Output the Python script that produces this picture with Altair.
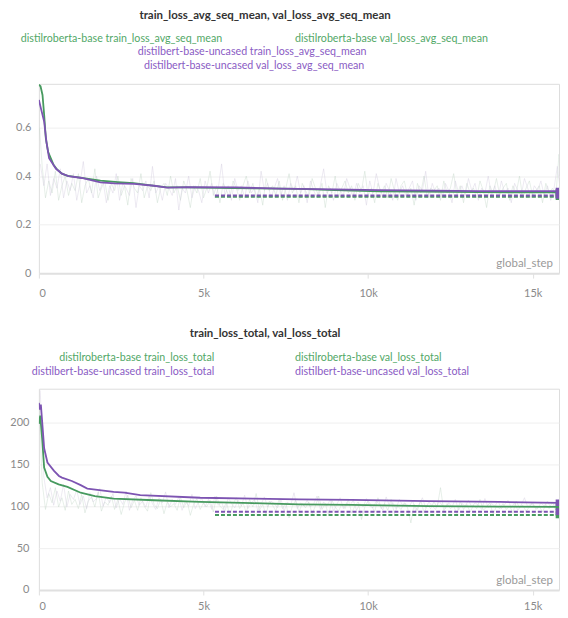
import altair as alt
import pandas as pd

GREEN = "#479A5F"
PURPLE = "#7D54B2"
GREEN_TXT = "#52A867"
PURPLE_TXT = "#8A5CC4"
FONT = "Lato"

# ---------------- panel 1: avg_seq_mean ----------------
p1_green_train_steps = [0, 50, 110, 160, 210, 280, 360, 450, 560, 700, 870, 1200, 1870, 2400, 2880,
                        3400, 3890, 4500, 5900, 7300, 7900, 9000, 10330, 11500, 13350, 14500, 15800]
p1_green_train_vals = [0.776, 0.77, 0.734, 0.652, 0.556, 0.50, 0.474, 0.445, 0.426, 0.41, 0.401, 0.395,
                       0.381, 0.375, 0.371, 0.362, 0.353, 0.353, 0.350, 0.348, 0.347, 0.342, 0.337,
                       0.336, 0.334, 0.333, 0.333]
p1_purple_train_steps = [0, 60, 160, 230, 310, 400, 520, 700, 900, 1300, 1870, 2300, 2900, 3500, 3900,
                         4500, 6000, 7300, 9000, 10300, 12000, 13350, 15000, 15800]
p1_purple_train_vals = [0.714, 0.68, 0.625, 0.54, 0.474, 0.455, 0.43, 0.41, 0.40, 0.392, 0.374, 0.37,
                        0.368, 0.36, 0.352, 0.354, 0.353, 0.348, 0.345, 0.342, 0.34, 0.338, 0.338, 0.338]
p1_val_steps = [5350, 15800]
p1_green_val = [0.315, 0.315]
p1_purple_val = [0.320, 0.320]

p1_green_raw = [0.60,
    0.44, 0.31, 0.38, 0.33, 0.42, 0.30, 0.36, 0.40, 0.32, 0.37,
    0.34, 0.41, 0.29, 0.36, 0.39, 0.33, 0.43, 0.31, 0.35, 0.38,
    0.30, 0.37, 0.34, 0.40, 0.32, 0.36, 0.28, 0.39, 0.35, 0.33,
    0.41, 0.31, 0.36, 0.34, 0.38, 0.29, 0.35, 0.37, 0.32, 0.40,
    0.33, 0.36, 0.30, 0.38, 0.34, 0.27, 0.36, 0.33, 0.39, 0.31,
    0.35, 0.42, 0.32, 0.36, 0.29, 0.37, 0.34, 0.31, 0.38, 0.35,
    0.30, 0.36, 0.40, 0.33, 0.37, 0.31, 0.35, 0.28, 0.39, 0.34,
    0.36, 0.32, 0.38, 0.30, 0.35, 0.41, 0.33, 0.36, 0.29, 0.37,
    0.34, 0.31, 0.39, 0.35, 0.32, 0.37, 0.27, 0.36, 0.33, 0.40,
    0.31, 0.35, 0.38, 0.33, 0.36, 0.30, 0.37, 0.34, 0.42, 0.32,
    0.35, 0.29, 0.37, 0.33, 0.36, 0.31, 0.39, 0.34, 0.30, 0.36,
    0.38, 0.32, 0.35, 0.28, 0.37, 0.33, 0.40, 0.31, 0.35, 0.34,
    0.36, 0.30, 0.38, 0.33, 0.35, 0.41, 0.32, 0.36, 0.29, 0.37,
    0.33, 0.35, 0.31, 0.38, 0.34, 0.27, 0.36, 0.33, 0.39, 0.32,
    0.35, 0.37, 0.30, 0.36, 0.33, 0.40, 0.31, 0.35, 0.38, 0.32,
    0.34, 0.36, 0.29, 0.37, 0.33, 0.35, 0.31, 0.49, 0.34, 0.36]
p1_purple_raw = [0.45,
    0.36, 0.45, 0.32, 0.39, 0.35, 0.43, 0.31, 0.38, 0.34, 0.41,
    0.30, 0.37, 0.46, 0.33, 0.36, 0.31, 0.40, 0.34, 0.38, 0.29,
    0.36, 0.33, 0.41, 0.30, 0.37, 0.35, 0.32, 0.39, 0.27, 0.36,
    0.34, 0.38, 0.31, 0.44, 0.33, 0.36, 0.30, 0.37, 0.35, 0.32,
    0.39, 0.26, 0.35, 0.33, 0.40, 0.31, 0.36, 0.34, 0.29, 0.38,
    0.33, 0.37, 0.31, 0.35, 0.45, 0.32, 0.36, 0.30, 0.39, 0.34,
    0.36, 0.31, 0.38, 0.33, 0.35, 0.29, 0.42, 0.34, 0.37, 0.31,
    0.35, 0.39, 0.32, 0.36, 0.30, 0.37, 0.34, 0.40, 0.33, 0.36,
    0.29, 0.38, 0.34, 0.31, 0.36, 0.43, 0.33, 0.35, 0.30, 0.37,
    0.34, 0.32, 0.39, 0.35, 0.31, 0.37, 0.33, 0.36, 0.28, 0.38,
    0.33, 0.41, 0.35, 0.31, 0.37, 0.34, 0.30, 0.39, 0.33, 0.36,
    0.32, 0.35, 0.38, 0.30, 0.36, 0.34, 0.42, 0.31, 0.37, 0.33,
    0.35, 0.31, 0.37, 0.34, 0.29, 0.38, 0.33, 0.36, 0.32, 0.39,
    0.34, 0.37, 0.30, 0.35, 0.33, 0.40, 0.32, 0.36, 0.31, 0.38,
    0.33, 0.35, 0.29, 0.37, 0.34, 0.32, 0.39, 0.35, 0.31, 0.36,
    0.34, 0.38, 0.32, 0.36, 0.30, 0.35, 0.44, 0.33, 0.36, 0.34]

# ---------------- panel 2: total ----------------
p2_green_train_steps = [0, 40, 100, 160, 260, 363, 600, 867, 1270, 1700, 2270, 3500, 4900, 6500, 7900,
                        9500, 11840, 14000, 15800]
p2_green_train_vals = [198, 208, 180, 146, 135, 130, 126, 123, 116, 112, 109, 107, 105, 103.5, 102,
                       101.5, 100, 99.5, 99]
p2_purple_train_steps = [0, 30, 60, 120, 160, 260, 460, 610, 700, 1000, 1270, 1470, 2270, 2600, 3080,
                         4900, 6500, 7900, 9500, 11840, 14000, 15800]
p2_purple_train_vals = [223, 215, 221, 190, 169, 152, 142, 136, 134, 130, 125, 121, 117, 116, 113,
                        110, 109, 108, 107.5, 106, 105, 104]
p2_val_steps = [5350, 15800]
p2_green_val = [89.5, 89.5]
p2_purple_val = [93.4, 93.4]

p2_green_raw = [215,
    128, 96, 115, 104, 122, 99, 110, 95, 118, 102,
    108, 97, 114, 92, 106, 111, 99, 117, 94, 105,
    101, 112, 96, 108, 90, 104, 113, 98, 107, 95,
    110, 100, 94, 116, 102, 97, 108, 91, 105, 99,
    103, 95, 111, 98, 106, 89, 102, 109, 96, 104,
    99, 107, 93, 112, 100, 96, 105, 88, 103, 110,
    97, 104, 92, 108, 99, 115, 95, 102, 90, 106,
    101, 94, 109, 97, 104, 86, 100, 107, 93, 103,
    98, 105, 91, 100, 112, 96, 103, 89, 107, 99,
    94, 102, 97, 108, 92, 100, 105, 84, 99, 106,
    101, 93, 110, 97, 103, 95, 108, 91, 100, 96,
    104, 98, 80, 102, 95, 107, 92, 101, 97, 105,
    99, 122, 94, 103, 97, 100, 91, 106, 96, 102,
    93, 101, 97, 108, 95, 99, 104, 90, 100, 97,
    103, 96, 100, 92, 106, 98, 101, 94, 99, 104,
    96, 100, 93, 102, 97, 105, 95, 99, 101, 97]
p2_purple_raw = [238,
    135, 110, 122, 101, 118, 106, 126, 99, 114, 108,
    119, 102, 112, 97, 116, 105, 109, 121, 100, 111,
    104, 115, 98, 109, 102, 118, 95, 107, 112, 101,
    106, 99, 113, 103, 96, 110, 104, 117, 98, 108,
    102, 111, 95, 106, 100, 114, 97, 105, 109, 99,
    108, 96, 112, 101, 105, 93, 110, 103, 98, 107,
    100, 113, 97, 104, 108, 95, 102, 111, 99, 106,
    103, 98, 109, 94, 105, 101, 116, 97, 104, 100,
    107, 99, 103, 112, 96, 105, 100, 108, 94, 102,
    110, 97, 104, 101, 107, 95, 103, 99, 109, 100,
    98, 106, 102, 95, 111, 100, 104, 97, 108, 101,
    103, 99, 107, 94, 102, 110, 98, 105, 100, 96,
    106, 101, 97, 104, 99, 108, 95, 103, 100, 107,
    99, 104, 101, 96, 109, 98, 103, 100, 106, 97,
    102, 107, 98, 104, 95, 101, 110, 99, 103, 100,
    97, 104, 100, 106, 98, 102, 96, 105, 101, 99]

X_MAX = 15800
W = 522


def raw_steps(first, start, n):
    return [first] + [start + 100 * i for i in range(n - 1)]


def df(steps, vals):
    return pd.DataFrame({"step": steps, "v": vals})


def panel(title, legend, gtrain, ptrain, gval, pval, graw, praw, ydom, yticks, height, lpad, xpad, fmt):
    xenc = alt.X("step:Q", scale=alt.Scale(domain=[0, X_MAX], nice=False),
                 axis=alt.Axis(values=[0, 5000, 10000, 15000], title=None, grid=False,
                               labelExpr="datum.value == 0 ? '0' : (datum.value / 1000) + 'k'",
                               domainColor="#e0e0e0", domainWidth=2, tickColor="#e0e0e0",
                               tickSize=5, labelColor="#8a8a8a", labelFontSize=11,
                               labelPadding=xpad, labelFont=FONT))
    yenc = alt.Y("v:Q", scale=alt.Scale(domain=ydom, nice=False),
                 axis=alt.Axis(values=yticks, title=None, domain=False, ticks=False,
                               gridColor="#efefef", labelColor="#8a8a8a", labelFontSize=11,
                               labelPadding=lpad, minExtent=30, maxExtent=30, format=fmt,
                               labelFont=FONT))

    def line(d, color, width=1.0, dash=None, opacity=1.0):
        kw = dict(color=color, strokeWidth=width, opacity=opacity, clip=True)
        if dash:
            kw["strokeDash"] = dash
        return alt.Chart(d).mark_line(**kw).encode(x=xenc, y=yenc)

    layers = [
        line(graw, "#c3d6c8", 0.8, opacity=0.5),
        line(praw, "#d2cade", 0.8, opacity=0.5),
        line(gval, GREEN, 2, dash=[4, 2]),
        line(pval, PURPLE, 2, dash=[4, 2]),
        line(gtrain, GREEN, 1.8),
        line(ptrain, PURPLE, 1.8),
    ]
    ends = pd.concat([gtrain.tail(1).assign(c=GREEN), ptrain.tail(1).assign(c=PURPLE),
                      gval.tail(1).assign(c=GREEN), pval.tail(1).assign(c=PURPLE)])
    layers.append(alt.Chart(ends).mark_square(size=45, opacity=1, clip=True).encode(
        x=xenc, y=yenc, color=alt.Color("c:N", scale=None)))

    layers.append(alt.Chart(pd.DataFrame({"t": [title[0]]})).mark_text(
        font=FONT, fontSize=11.5, fontWeight="bold", color="#333333", align="center",
        baseline="middle").encode(text="t:N", x=alt.value(title[1]), y=alt.value(title[2])))
    for txt, col, x, y, al in legend:
        layers.append(alt.Chart(pd.DataFrame({"t": [txt]})).mark_text(
            font=FONT, fontSize=10.7, color=col, align=al, baseline="middle").encode(
            text="t:N", x=alt.value(x), y=alt.value(y)))
    layers.append(alt.Chart(pd.DataFrame({"t": ["global_step"]})).mark_text(
        font=FONT, fontSize=11.5, color="#9a9a9a", align="right", baseline="middle").encode(
        text="t:N", x=alt.value(W - 6), y=alt.value(height - 9)))
    return alt.layer(*layers).properties(width=W, height=height)


top = panel(
    ("train_loss_avg_seq_mean, val_loss_avg_seq_mean", 227, -68),
    [("distilroberta-base train_loss_avg_seq_mean", GREEN_TXT, 184, -45, "right"),
     ("distilroberta-base val_loss_avg_seq_mean", GREEN_TXT, 257, -45, "left"),
     ("distilbert-base-uncased train_loss_avg_seq_mean", PURPLE_TXT, 214, -32, "center"),
     ("distilbert-base-uncased val_loss_avg_seq_mean", PURPLE_TXT, 216, -18, "center")],
    df(p1_green_train_steps, p1_green_train_vals), df(p1_purple_train_steps, p1_purple_train_vals),
    df(p1_val_steps, p1_green_val), df(p1_val_steps, p1_purple_val),
    df(raw_steps(20, 100, len(p1_green_raw)), p1_green_raw),
    df(raw_steps(40, 150, len(p1_purple_raw)), p1_purple_raw),
    [0, 0.78], [0, 0.2, 0.4, 0.6], 190, 8, 9, ".1~f")

bottom = panel(
    ("train_loss_total, val_loss_total", 227, -55),
    [("distilroberta-base train_loss_total", GREEN_TXT, 176, -31, "right"),
     ("distilroberta-base val_loss_total", GREEN_TXT, 257, -31, "left"),
     ("distilbert-base-uncased train_loss_total", PURPLE_TXT, 176, -17, "right"),
     ("distilbert-base-uncased val_loss_total", PURPLE_TXT, 257, -17, "left")],
    df(p2_green_train_steps, p2_green_train_vals), df(p2_purple_train_steps, p2_purple_train_vals),
    df(p2_val_steps, p2_green_val), df(p2_val_steps, p2_purple_val),
    df(raw_steps(20, 100, len(p2_green_raw)), p2_green_raw),
    df(raw_steps(40, 150, len(p2_purple_raw)), p2_purple_raw),
    [0, 240], [0, 50, 100, 150, 200], 202, 10, 6, "d")

chart = alt.vconcat(top, bottom, spacing=28).properties(
    padding={"left": 0, "top": 0, "right": 0, "bottom": 0}
).configure_view(strokeWidth=0).configure(background="white")

chart.save("out.html", embed_options={"renderer": "svg", "actions": False})
